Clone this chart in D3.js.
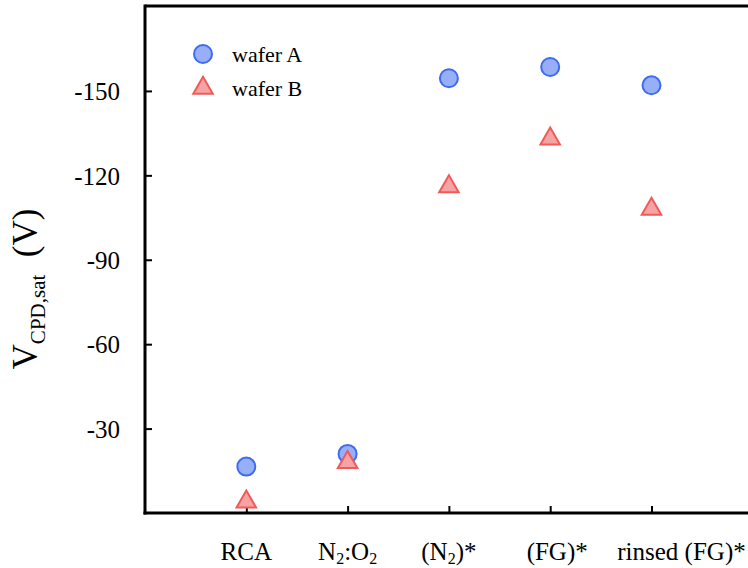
<!DOCTYPE html>
<html>
<head>
<meta charset="utf-8">
<script src="https://cdn.jsdelivr.net/npm/d3@7"></script>
<style>
  body { margin: 0; background: #fff; }
  svg text { font-family: "Liberation Serif", "Times New Roman", serif; fill: #000; }
</style>
</head>
<body>
<div id="chart"></div>
<script>
"use strict";

// categories along x (digits become subscripts)
const categories = ["RCA", "N2:O2", "(N2)*", "(FG)*", "rinsed (FG)*"];
const waferA = [-16.5, -21, -154.5, -158.5, -152];
const waferB = [-4, -18, -116, -133, -108];
const yTicks = [-30, -60, -90, -120, -150];
const seriesNames = ["wafer A", "wafer B"];

const W = 748, H = 568;
const plotLeft = 145, plotTop = 6, plotBottom = 513;

let svg = d3.select("#chart").append("svg")
    .attr("width", W)
    .attr("height", H);

// x: categories sit at 1..5 on a 0..6 range
let x = d3.scaleLinear().domain([0, 6]).range([plotLeft, plotLeft + 6 * 101.3]);
let y = d3.scaleLinear().domain([0, -180]).range([plotBottom, 6.5]);

// frame
svg.append("line")
    .attr("x1", plotLeft).attr("x2", W + 10)
    .attr("y1", plotTop).attr("y2", plotTop)
    .attr("stroke", "#000").attr("stroke-width", 3);

// y axis
let yAxis = svg.append("g")
    .attr("transform", `translate(${plotLeft},0)`)
    .call(d3.axisLeft(y).tickValues(yTicks).tickSize(-7).tickPadding(25)
        .tickFormat(d => String(d)));
yAxis.attr("font-family", null);
yAxis.select(".domain").remove();
yAxis.selectAll(".tick line").attr("stroke-width", 2);
yAxis.selectAll(".tick text")
    .attr("font-size", 25)
    .attr("dy", "0.35em");
svg.append("line")
    .attr("x1", plotLeft).attr("x2", plotLeft)
    .attr("y1", plotTop - 1.5).attr("y2", plotBottom + 1.5)
    .attr("stroke", "#000").attr("stroke-width", 3);

// x axis
let xAxis = svg.append("g")
    .attr("transform", `translate(0,${plotBottom})`)
    .call(d3.axisBottom(x).tickValues([1, 2, 3, 4, 5]).tickSize(-7).tickFormat(""));
xAxis.select(".domain").remove();
xAxis.selectAll(".tick text").remove();
xAxis.selectAll(".tick line").attr("stroke-width", 2);
svg.append("line")
    .attr("x1", plotLeft - 1.5).attr("x2", W + 10)
    .attr("y1", plotBottom).attr("y2", plotBottom)
    .attr("stroke", "#000").attr("stroke-width", 3);

// category labels, with subscripts
const labelShift = [0, 0, 0, 7, 30];
categories.forEach(function (c, i) {
    let t = svg.append("text")
        .attr("x", x(i + 1) + labelShift[i])
        .attr("y", 560)
        .attr("text-anchor", "middle")
        .attr("font-size", 25);
    let lowered = false;
    c.split(/(\d)/).forEach(function (p) {
        if (p === "") return;
        if (/\d/.test(p)) {
            t.append("tspan").attr("font-size", 16).attr("dy", 4).text(p);
            lowered = true;
        } else {
            t.append("tspan").attr("dy", lowered ? -4 : null).text(p);
            lowered = false;
        }
    });
});

// y label
let yl = svg.append("text")
    .attr("transform", "translate(37,289) rotate(-90)")
    .attr("text-anchor", "middle")
    .attr("font-size", 35);
yl.append("tspan").text("V");
yl.append("tspan").attr("font-size", 21).attr("dy", 8).text("CPD,sat");
yl.append("tspan").attr("dy", -8).text("\u00A0\u00A0(V)");

const circleSym = d3.symbol().type(d3.symbolCircle).size(Math.PI * 81);
const triSym = d3.symbol().type(d3.symbolTriangle).size(165);

const colA = { fill: "#97aef8", stroke: "#3d6cf0" };
const colB = { fill: "#f6a3a3", stroke: "#f25a5a" };

// wafer A points
svg.append("g").selectAll("path")
    .data(waferA)
    .join("path")
    .attr("d", circleSym)
    .attr("transform", (d, i) => `translate(${x(i + 1)},${y(d)})`)
    .attr("fill", colA.fill)
    .attr("stroke", colA.stroke)
    .attr("stroke-width", 2);

// wafer B points
svg.append("g").selectAll("path")
    .data(waferB)
    .join("path")
    .attr("d", triSym)
    .attr("transform", (d, i) => `translate(${x(i + 1)},${y(d)})`)
    .attr("fill", colB.fill)
    .attr("stroke", colB.stroke)
    .attr("stroke-width", 2);

// legend
let legend = svg.append("g");
seriesNames.forEach(function (name, i) {
    let cy = 54 + i * 34;
    let col = i === 0 ? colA : colB;
    legend.append("path")
        .attr("d", i === 0 ? circleSym : triSym)
        .attr("transform", `translate(203,${cy})`)
        .attr("fill", col.fill)
        .attr("stroke", col.stroke)
        .attr("stroke-width", 2);
    legend.append("text")
        .attr("x", 232)
        .attr("y", cy + 8)
        .attr("font-size", 22)
        .text(name);
});
</script>
</body>
</html>
